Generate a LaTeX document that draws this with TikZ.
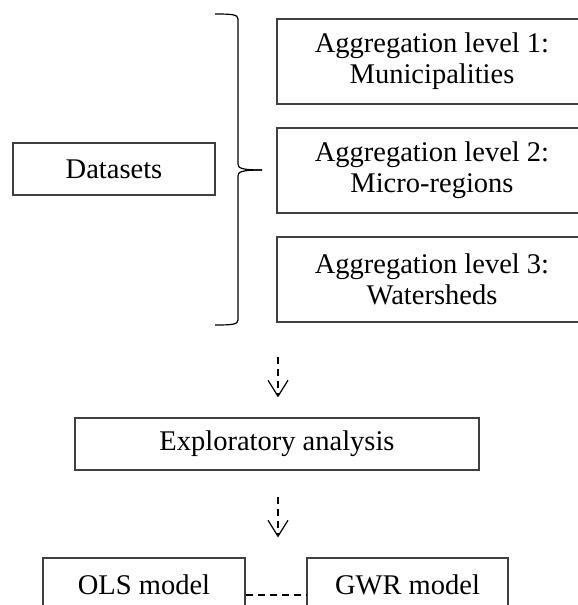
\documentclass[tikz,border=0pt]{standalone}
\usepackage{fontspec}
\setmainfont{Liberation Serif}
\usetikzlibrary{arrows.meta}
\begin{document}
\begin{tikzpicture}[x=1pt,y=-1pt,
  box/.style={draw=black!75, line width=1.2pt, align=center, inner sep=0pt,
    font=\fontsize{28.5}{31}\selectfont, text=black},
  bracestyle/.style={draw=black, line width=1.2pt},
  flow/.style={draw=black, line width=1.2pt, dash pattern=on 7pt off 5pt,
    -{Straight Barb[length=16pt,width=20pt]}},
  link/.style={draw=black, line width=1.2pt, dash pattern=on 7pt off 5pt}]
\useasboundingbox (0,0) rectangle (578,605);
\clip (0,0) rectangle (578,605);
\node[box, minimum width=202pt, minimum height=52pt] (ds) at (114,169) {Datasets};
\node[box, minimum width=310pt, minimum height=85pt] (a1) at (432,61.5) {Aggregation level 1:\\Municipalities};
\node[box, minimum width=310pt, minimum height=85pt] (a2) at (432,170.5) {Aggregation level 2:\\Micro-regions};
\node[box, minimum width=310pt, minimum height=85pt] (a3) at (432,279.5) {Aggregation level 3:\\Watersheds};
\node[box, minimum width=404pt, minimum height=52pt] (ea) at (277,444) {Exploratory analysis};
\node[box, minimum width=202pt, minimum height=54pt] (ols) at (144,585) {OLS model};
\node[box, minimum width=201pt, minimum height=54pt] (gwr) at (407.5,585) {GWR model};
% brace
\draw[bracestyle] (215,14) .. controls (232,14) and (238,14.5) .. (238,19) -- (238,164)
  .. controls (238,168) and (241,170) .. (262,170);
\draw[bracestyle] (262,170) .. controls (241,170) and (238,172) .. (238,176) -- (238,320)
  .. controls (238,324.5) and (232,325) .. (215,325);
% flow arrows
\coordinate (s1) at (278,357);
\coordinate (s2) at (278,497);
\draw[flow] (s1) -- ([yshift=20pt]ea.north -| s1);
\draw[flow] (s2) -- ([yshift=20pt]ols.north -| s2);
\draw[link] ([yshift=-10pt]ols.east) -- ([yshift=-10pt]gwr.west);
\end{tikzpicture}
\end{document}
